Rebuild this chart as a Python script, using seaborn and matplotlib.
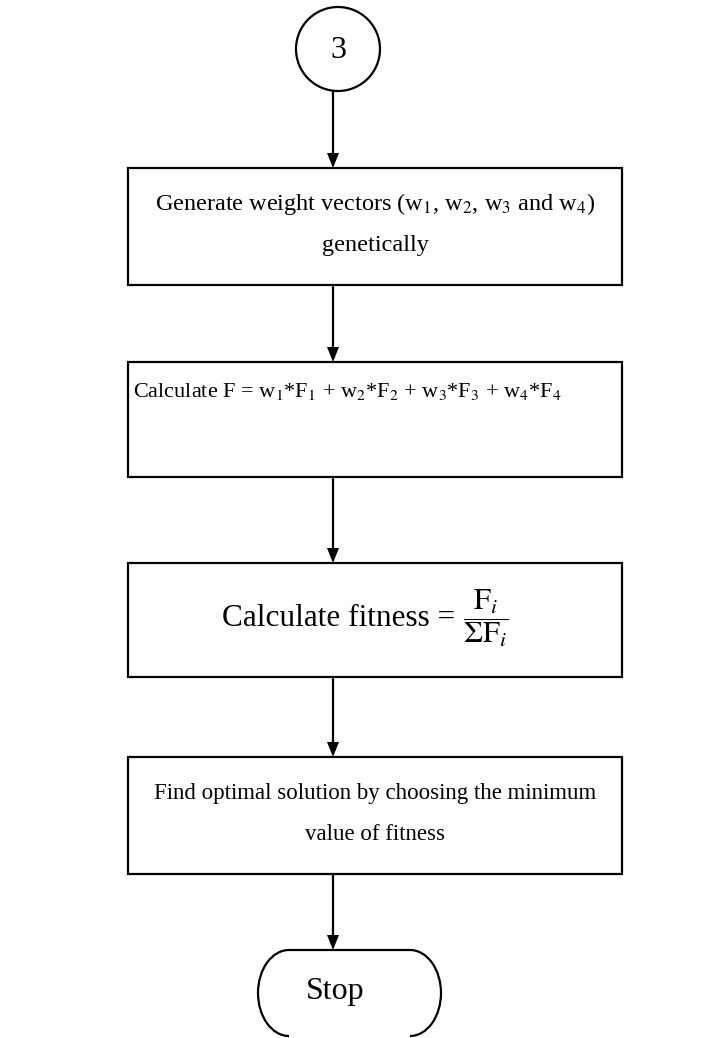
import seaborn as sns
import matplotlib.pyplot as plt
from matplotlib.patches import Circle, Rectangle, Arc

# flowchart content
connector_label = "3"
step_lines = [
    [r"Generate weight vectors (w$_\mathrm{1}$, w$_\mathrm{2}$, w$_\mathrm{3}$ and w$_\mathrm{4}$)", "genetically"],
    [r"Calculate F = w$_\mathrm{1}$*F$_\mathrm{1}$ + w$_\mathrm{2}$*F$_\mathrm{2}$ + w$_\mathrm{3}$*F$_\mathrm{3}$ + w$_\mathrm{4}$*F$_\mathrm{4}$"],
    ["Calculate fitness ="],
    ["Find optimal solution by choosing the minimum", "value of fitness"],
]
fitness_formula = r"$\dfrac{\mathrm{F}_{i}}{\mathrm{\Sigma F}_{i}}$"
step_align = ["center", "left", "formula", "center"]
step_size = [17.5, 16, 22.5, 16.5]
end_label = "Stop"

sns.set_theme(style="white")
plt.rcParams['font.family'] = ['Liberation Serif', 'DejaVu Serif']
plt.rcParams['mathtext.fontset'] = 'stix'
plt.rcParams['text.color'] = 'black'

fig = plt.figure(figsize=(7.2, 10.38), dpi=100)
ax = fig.add_axes([0, 0, 1, 1])
ax.set_xlim(0, 720)
ax.set_ylim(1038, 0)
ax.axis('off')

lw = 1.6
ax_x = 333

# box geometry (top, bottom) in pixels
box_left, box_right = 128, 622
box_tb = [(168, 285), (362, 477), (563, 677), (757, 874)]


def arrow(y0, y1):
    ax.plot([ax_x, ax_x], [y0, y1 - 14], color='black', lw=lw)
    ax.fill([ax_x - 6, ax_x + 6, ax_x], [y1 - 15, y1 - 15, y1], color='black', lw=0)


# connector circle
ax.add_patch(Circle((338, 49), 42, fill=False, ec='black', lw=lw))
ax.text(338, 50, connector_label, ha='center', va='center', fontsize=23)
arrow(91, 168)

prev_bottom = None
for (top, bottom), lines, align, fs in zip(box_tb, step_lines, step_align, step_size):
    if prev_bottom is not None:
        arrow(prev_bottom + 2, top)
    ax.add_patch(Rectangle((box_left, top), box_right - box_left, bottom - top,
                           fill=False, ec='black', lw=lw))
    if align == "left":
        ax.text(box_left + 5, top + 29, lines[0], ha='left', va='center', fontsize=fs)
    elif align == "formula":
        mid = (top + bottom) / 2
        ax.text(455, mid - 1, lines[0], ha='right', va='center', fontsize=fs)
        ax.text(463, mid - 2, fitness_formula, ha='left', va='center', fontsize=22)
    else:
        for k, line in enumerate(lines):
            ax.text((box_left + box_right) / 2, top + 36 + 41 * k, line,
                    ha='center', va='center', fontsize=fs)
    prev_bottom = bottom

arrow(874, 950)

# terminal (stadium, cut by the bottom edge)
t_top, t_bot = 950, 1036
t_l, t_r, rx = 258, 441, 31
t_cy = (t_top + t_bot) / 2
ax.plot([t_l + rx, t_r - rx], [t_top, t_top], color='black', lw=lw)
ax.add_patch(Arc((t_r - rx, t_cy), 2 * rx, t_bot - t_top, theta1=-90, theta2=90, ec='black', lw=lw))
ax.add_patch(Arc((t_l + rx, t_cy), 2 * rx, t_bot - t_top, theta1=90, theta2=270, ec='black', lw=lw))
ax.text(335, 992, end_label, ha='center', va='center', fontsize=23)

fig.savefig("out.png", dpi=100)
